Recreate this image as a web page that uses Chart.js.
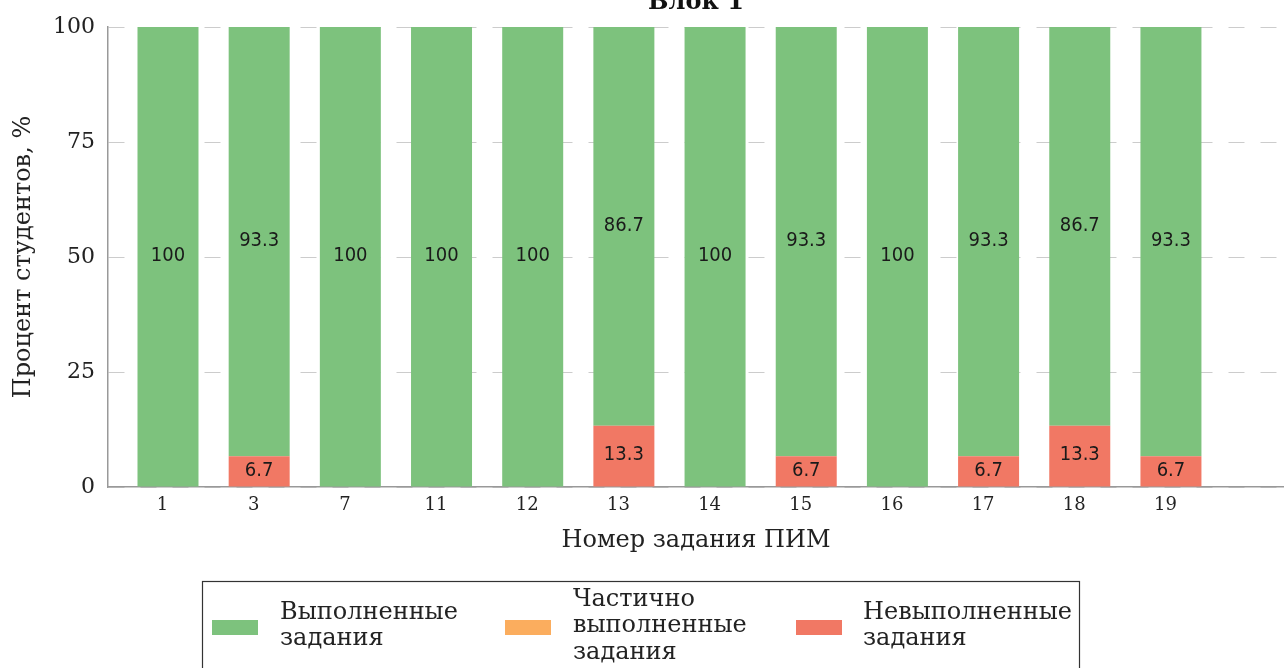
<!DOCTYPE html>
<html><head><meta charset="utf-8">
<script src="https://cdn.jsdelivr.net/npm/chart.js@4"></script>
<style>
html,body{margin:0;padding:0;background:#fff;overflow:hidden;width:1284px;height:668px;}
#wrap{position:absolute;left:0;top:-20px;width:1284px;height:688px;}
</style></head><body>
<div id="wrap"><canvas id="c"></canvas></div>
<script>
const chartTitle = 'Блок 1';
const xTitle = 'Номер задания ПИМ';
const yTitle = 'Процент студентов, %';
const categories = ['1','3','7','11','12','13','14','15','16','17','18','19'];
const completed = [100,93.3,100,100,100,86.7,100,93.3,100,93.3,86.7,93.3];
const partial = [0,0,0,0,0,0,0,0,0,0,0,0];
const notCompleted = [0,6.7,0,0,0,13.3,0,6.7,0,6.7,13.3,6.7];
const yTicks = [0,25,50,75,100];
const seriesNames = [['Выполненные','задания'],['Частично','выполненные','задания'],['Невыполненные','задания']];
const seriesColors = ['#7dc27d','#fbad5e','#f17864'];

const SHIFT = 20;
const TICK_OFFSET = -0.06;
const SERIF = '"DejaVu Serif", "Liberation Serif", serif';
const COND = '"DejaVu Sans Condensed", "DejaVu Sans", sans-serif';

const toPoints = arr => arr.map((v, i) => ({x: i, y: v}));

const valueLabels = {
  id: 'valueLabels',
  afterDatasetsDraw(chart) {
    const ctx = chart.ctx;
    ctx.save();
    ctx.font = '20px ' + COND;
    ctx.fillStyle = '#1a1a1a';
    ctx.textAlign = 'center';
    ctx.textBaseline = 'middle';
    chart.data.datasets.forEach((ds, di) => {
      const meta = chart.getDatasetMeta(di);
      meta.data.forEach((el, i) => {
        const v = ds.data[i].y;
        if (!v) return;
        const p = el.getProps(['x','y','base'], true);
        ctx.fillText(String(v), p.x, (p.y + p.base) / 2 - 1);
      });
    });
    ctx.restore();
  }
};

const customLegend = {
  id: 'customLegend',
  afterDraw(chart) {
    const ctx = chart.ctx;
    ctx.save();
    const left = 202, top = 581 + SHIFT, right = 1079, bottom = 720 + SHIFT;
    ctx.strokeStyle = '#333';
    ctx.lineWidth = 1.2;
    ctx.strokeRect(left + 0.5, top + 0.5, right - left, bottom - top);
    const swX = [212, 505, 796];
    const txX = [280, 573, 863];
    const cy = 626 + SHIFT;
    const lh = 26.5;
    ctx.font = '24px ' + SERIF;
    ctx.textAlign = 'left';
    ctx.textBaseline = 'middle';
    seriesNames.forEach((lines, k) => {
      ctx.fillStyle = seriesColors[k];
      ctx.fillRect(swX[k], 620 + SHIFT, 46, 15);
      ctx.fillStyle = '#222';
      const y0 = cy - (lines.length - 1) * lh / 2;
      lines.forEach((t, j) => ctx.fillText(t, txX[k], y0 + j * lh));
    });
    ctx.restore();
  }
};

const datasets = [
  {label: seriesNames[0].join(' '), data: toPoints(completed), backgroundColor: seriesColors[0], order: 2},
  {label: seriesNames[1].join(' '), data: toPoints(partial), backgroundColor: seriesColors[1], order: 1},
  {label: seriesNames[2].join(' '), data: toPoints(notCompleted), backgroundColor: seriesColors[2], order: 0}
].map(d => Object.assign(d, {barPercentage: 0.669, categoryPercentage: 1, stack: 's', borderWidth: 0}));

new Chart(document.getElementById('c'), {
  type: 'bar',
  data: {datasets},
  plugins: [valueLabels, customLegend],
  options: {
    responsive: true,
    maintainAspectRatio: false,
    animation: false,
    devicePixelRatio: 1,
    layout: {padding: {left: 0, right: 0, top: 0, bottom: 112.6}},
    plugins: {
      legend: {display: false},
      tooltip: {enabled: false},
      title: {
        display: true, text: chartTitle, fullSize: false,
        font: {family: SERIF, size: 24, weight: 'bold'}, color: '#111',
        padding: {top: 8, bottom: 10.2}
      }
    },
    scales: {
      x: {
        type: 'linear', stacked: true, min: -0.658, max: 12.24, offset: false,
        afterBuildTicks: s => { s.ticks = categories.map((_, i) => ({value: i + TICK_OFFSET})); },
        afterFit: s => { s.height = 68.4; },
        grid: {display: false, drawTicks: false},
        border: {display: true, color: '#999', width: 1.5},
        ticks: {padding: 8, font: {family: SERIF, size: 18}, color: '#222',
          callback: v => categories[Math.round(v)], maxRotation: 0, autoSkip: false},
        title: {display: true, text: xTitle, font: {family: SERIF, size: 24}, color: '#222', padding: {top: 0, bottom: 0}}
      },
      y: {
        stacked: true, min: 0, max: 100,
        afterBuildTicks: s => { s.ticks = yTicks.map(v => ({value: v})); },
        afterFit: s => { s.width = 108; },
        grid: {color: '#cccccc', lineWidth: 1, drawTicks: false},
        border: {display: true, color: '#999', width: 1.5, dash: [16, 16]},
        ticks: {padding: 13, font: {family: SERIF, size: 22}, color: '#222'},
        title: {display: true, text: yTitle, font: {family: SERIF, size: 24}, color: '#222', padding: {top: 9.5, bottom: 0}}
      }
    }
  }
});
</script>
</body></html>
